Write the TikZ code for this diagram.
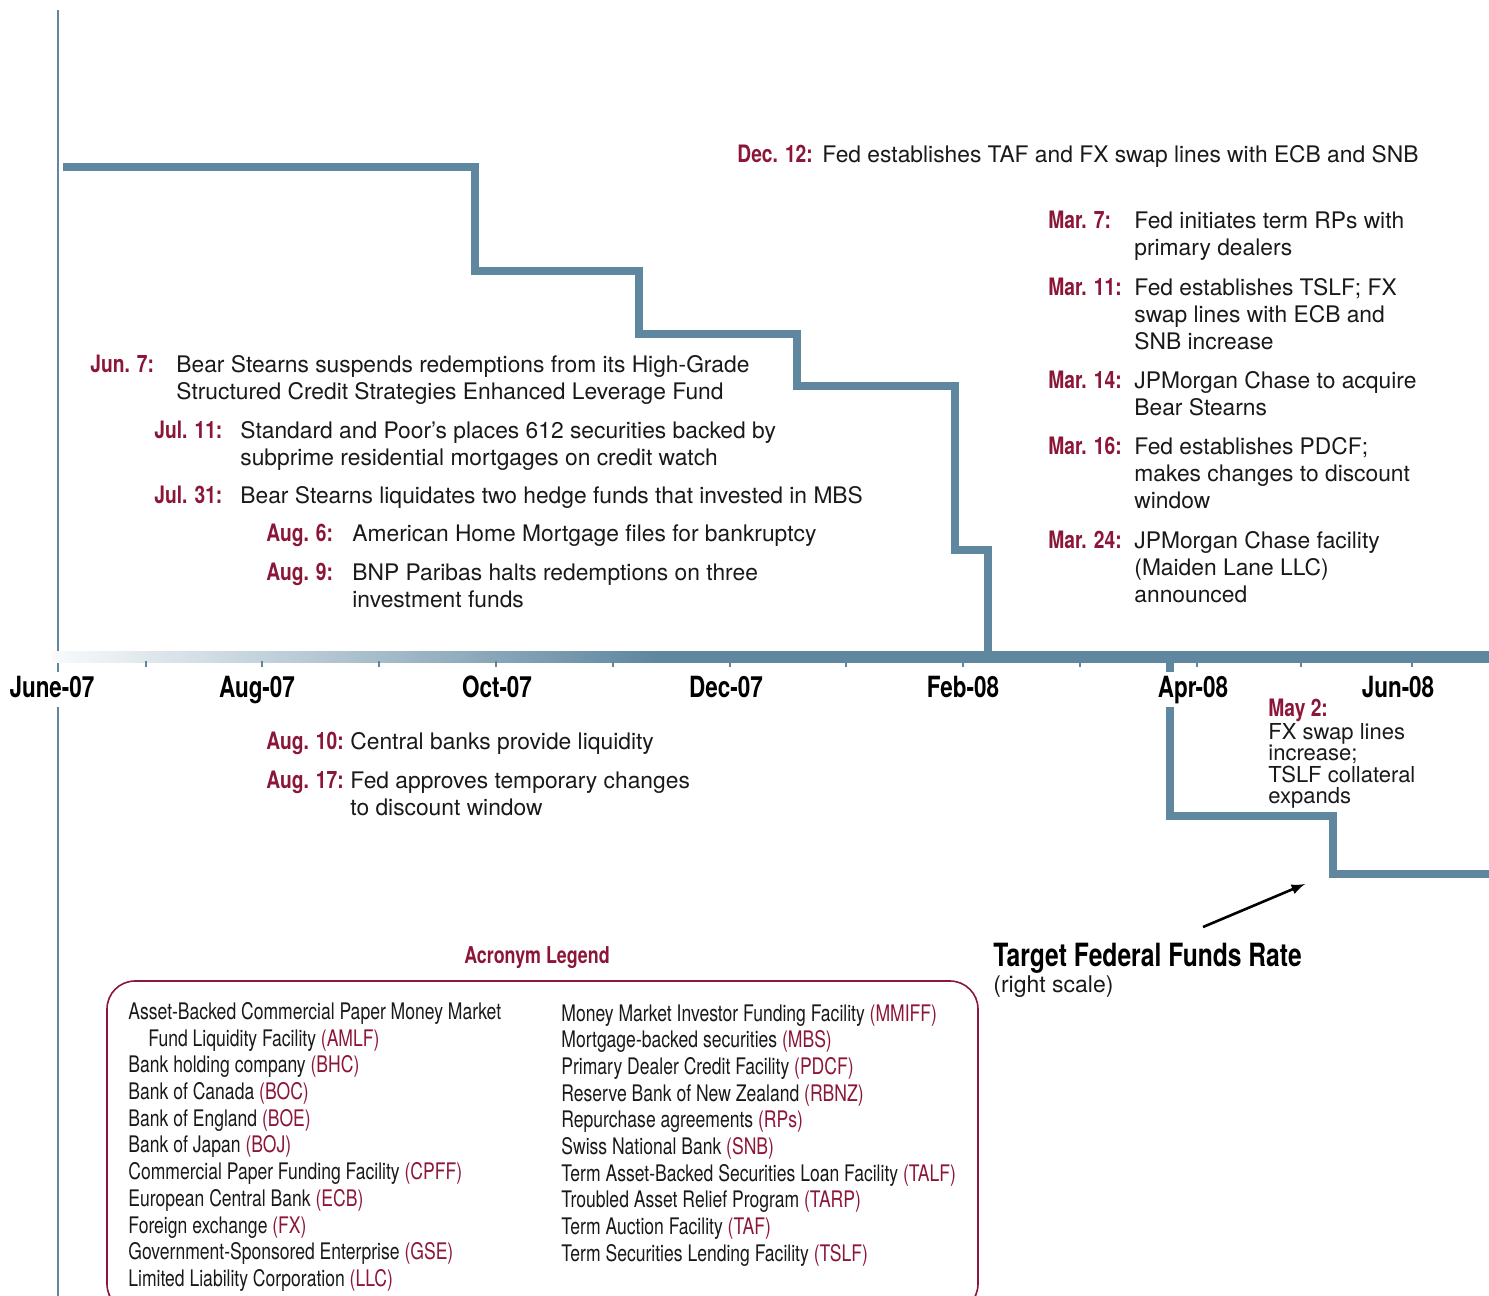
\documentclass[tikz,border=0pt]{standalone}
\usepackage{fontspec}
\setmainfont{TeX Gyre Heros}
\newfontfamily\narrowfont[FakeStretch=0.8]{TeX Gyre Heros}
\newfontfamily\condfont[FakeStretch=0.77]{TeX Gyre Heros}
\usepackage{tikz}
\usetikzlibrary{arrows}
\definecolor{fedblue}{RGB}{95,135,160}
\definecolor{fedred}{RGB}{140,22,56}
\newcommand{\acrnm}[1]{\textcolor{fedred}{(#1)}}
\pgfdeclarehorizontalshading{axisfade}{100bp}{color(0bp)=(fedblue!4); color(25bp)=(fedblue!4); color(46bp)=(fedblue); color(100bp)=(fedblue)}

\begin{document}
\begin{tikzpicture}[x=0.5pt,y=-0.5pt]
\tikzset{date/.style={anchor=north west,inner sep=0pt,text=fedred,font=\narrowfont\bfseries\fontsize{12}{13.5}\selectfont},
  event/.style={anchor=north west,inner sep=0pt,align=left,text=black!90,font=\fontsize{11.4}{13.5}\selectfont},
  month/.style={anchor=base,fill=white,inner xsep=1pt,inner ysep=2pt,text height=10.5pt,text depth=3pt,font=\condfont\bfseries\fontsize{14.6}{16}\selectfont},
  acro/.style={anchor=north west,inner sep=0pt,align=left,text=black!90,font=\condfont\fontsize{11.4}{13.35}\selectfont},
  rate/.style={draw=fedblue,line width=4pt}}
\useasboundingbox (0,0) rectangle (1489,1296);
\draw[fedblue,line width=1.2pt] (58,10) -- (58,1296);
% target rate steps
\draw[rate] (63,167) -| (475,271) -| (639,334) -| (797,386) -| (955,550) -| (988,656);
\draw[rate] (1170,656) |- (1333,816) |- (1489,874);
% time axis
\shade[shading=axisfade] (52,651) rectangle (1489,662);
\foreach \x in {146,262,379,496,613,730,846,963,1080,1197,1301,1412}
  \draw[fedblue,line width=1pt] (\x,661) -- (\x,667);
\foreach \x/\m in {52/June-07,257/Aug-07,497/Oct-07,726/Dec-07,963/Feb-08,1193/Apr-08,1398/Jun-08}
  \node[month] (m\x) at (\x,697) {\m};
% events above the axis
\node[date] (dec12) at (737,145) {Dec. 12:};
\node[event] (dec12txt) at (822,145) {Fed establishes TAF and FX swap lines with ECB and SNB};
\node[date] (mar7) at (1048,211) {Mar. 7:};
\node[event] (mar7txt) at (1134,211) {Fed initiates term RPs with\\primary dealers};
\node[date] (mar11) at (1048,278) {Mar. 11:};
\node[event] (mar11txt) at (1134,278) {Fed establishes TSLF; FX\\swap lines with ECB and\\SNB increase};
\node[date] (mar14) at (1048,371) {Mar. 14:};
\node[event] (mar14txt) at (1134,371) {JPMorgan Chase to acquire\\Bear Stearns};
\node[date] (mar16) at (1048,437) {Mar. 16:};
\node[event] (mar16txt) at (1134,437) {Fed establishes PDCF;\\makes changes to discount\\window};
\node[date] (mar24) at (1048,531) {Mar. 24:};
\node[event] (mar24txt) at (1134,531) {JPMorgan Chase facility\\(Maiden Lane LLC)\\announced};
\node[date] (jun7) at (90,355) {Jun. 7:};
\node[event] (jun7txt) at (176,355) {Bear Stearns suspends redemptions from its High-Grade\\Structured Credit Strategies Enhanced Leverage Fund};
\node[date] (jul11) at (154,421) {Jul. 11:};
\node[event] (jul11txt) at (240,421) {Standard and Poor’s places 612 securities backed by\\subprime residential mortgages on credit watch};
\node[date] (jul31) at (154,486) {Jul. 31:};
\node[event] (jul31txt) at (240,486) {Bear Stearns liquidates two hedge funds that invested in MBS};
\node[date] (aug6) at (266,524) {Aug. 6:};
\node[event] (aug6txt) at (352,524) {American Home Mortgage files for bankruptcy};
\node[date] (aug9) at (266,563) {Aug. 9:};
\node[event] (aug9txt) at (352,563) {BNP Paribas halts redemptions on three\\investment funds};
% events below the axis
\node[date] (aug10) at (266,732) {Aug. 10:};
\node[event] (aug10txt) at (350,732) {Central banks provide liquidity};
\node[date] (aug17) at (266,771) {Aug. 17:};
\node[event] (aug17txt) at (350,771) {Fed approves temporary changes\\to discount window};
\node[date] (may2) at (1268,699) {May 2:};
\node[event,font=\fontsize{11}{10.75}\selectfont] (may2txt) at (1268,723) {FX swap lines\\increase;\\TSLF collateral\\expands};
% rate label
\coordinate (ratetail) at (1203,927);
\coordinate (ratetip) at (1305,884);
\draw[-latex,line width=1.3pt] (ratetail) -- (ratetip);
\node[anchor=base west,inner sep=0pt,font=\condfont\bfseries\fontsize{16}{18}\selectfont] (fedfunds) at (993,966) {Target Federal Funds Rate};
\node[anchor=base west,inner sep=0pt,text=black!90,font=\fontsize{11.5}{13.5}\selectfont] (rscale) at (993,992) {(right scale)};
% acronym legend
\node[anchor=base,inner sep=0pt,text=fedred,font=\condfont\bfseries\fontsize{11.6}{13}\selectfont] (legend) at (537,963) {Acronym Legend};
\begin{scope}
\clip (0,0) rectangle (1489,1296);
\draw[fedred,line width=0.8pt,rounded corners=14pt] (107,981) rectangle (978,1312);
\end{scope}
\node[acro] (acroleft) at (128,1002) {Asset-Backed Commercial Paper Money Market\\\hspace*{10pt}Fund Liquidity Facility \acrnm{AMLF}\\Bank holding company \acrnm{BHC}\\Bank of Canada \acrnm{BOC}\\Bank of England \acrnm{BOE}\\Bank of Japan \acrnm{BOJ}\\Commercial Paper Funding Facility \acrnm{CPFF}\\European Central Bank \acrnm{ECB}\\Foreign exchange \acrnm{FX}\\Government-Sponsored Enterprise \acrnm{GSE}\\Limited Liability Corporation \acrnm{LLC}};
\node[acro] (acroright) at (561,1004) {Money Market Investor Funding Facility \acrnm{MMIFF}\\Mortgage-backed securities \acrnm{MBS}\\Primary Dealer Credit Facility \acrnm{PDCF}\\Reserve Bank of New Zealand \acrnm{RBNZ}\\Repurchase agreements \acrnm{RPs}\\Swiss National Bank \acrnm{SNB}\\Term Asset-Backed Securities Loan Facility \acrnm{TALF}\\Troubled Asset Relief Program \acrnm{TARP}\\Term Auction Facility \acrnm{TAF}\\Term Securities Lending Facility \acrnm{TSLF}};
\end{tikzpicture}
\end{document}
